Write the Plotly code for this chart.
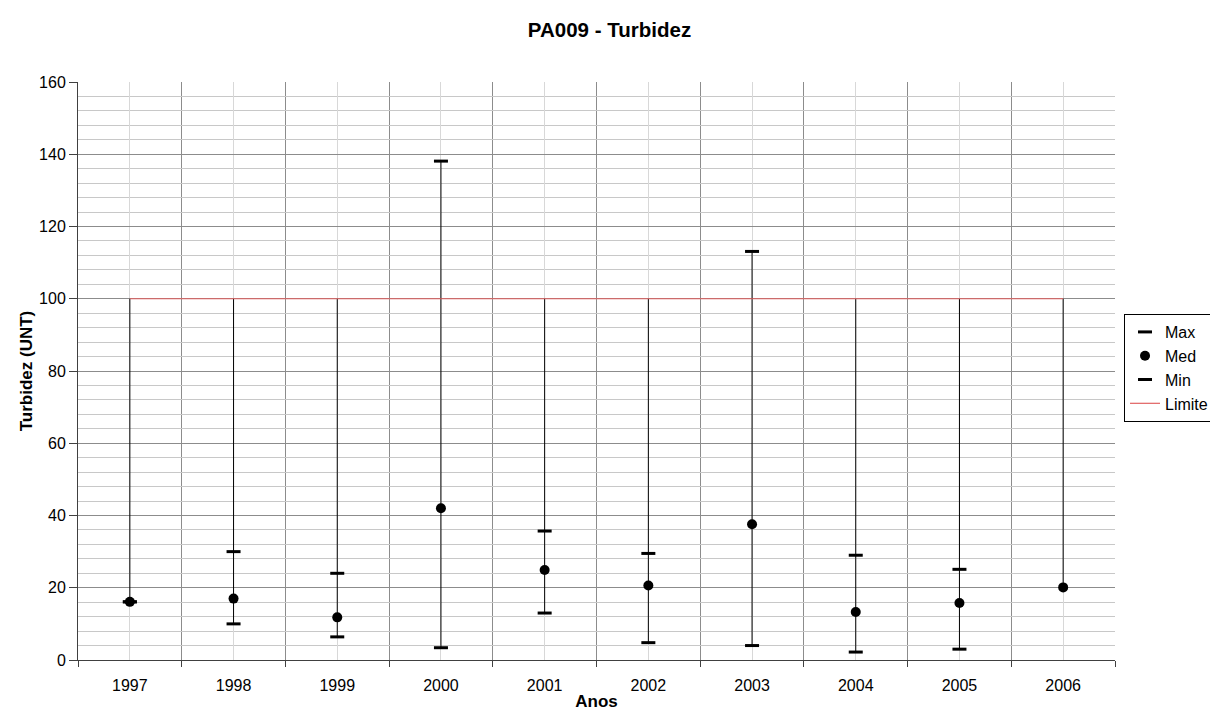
import plotly.graph_objects as go

# ---------------- Data ----------------
anos = ["1997", "1998", "1999", "2000", "2001", "2002", "2003", "2004", "2005", "2006"]
maximo = [16.1, 30.0, 24.0, 138.1, 35.7, 29.5, 113.1, 29.0, 25.1, None]
media = [16.1, 17.0, 11.8, 42.0, 24.9, 20.6, 37.6, 13.3, 15.8, 20.1]
minimo = [16.1, 10.0, 6.4, 3.4, 13.0, 4.8, 4.0, 2.2, 3.0, None]
limite = [100] * len(anos)

FONT = "Liberation Sans, Arial, sans-serif"
pos = list(range(len(anos)))

# high-low lines: span every series (incl. limite) at each year
hl_x, hl_y = [], []
for i in pos:
    vals = [v for v in (maximo[i], media[i], minimo[i], limite[i]) if v is not None]
    hl_x += [i, i, None]
    hl_y += [min(vals), max(vals), None]

fig = go.Figure()
fig.add_trace(go.Scatter(x=hl_x, y=hl_y, mode="lines", line=dict(color="black", width=1),
                         showlegend=False, hoverinfo="skip"))
fig.add_trace(go.Scatter(x=pos, y=maximo, mode="markers", name="Max", legendgroup="a",
                         marker=dict(symbol="line-ew", size=10, line=dict(color="black", width=3))))
fig.add_trace(go.Scatter(x=pos, y=media, mode="markers", name="Med", legendgroup="b",
                         marker=dict(symbol="circle", size=10, color="black")))
fig.add_trace(go.Scatter(x=pos, y=minimo, mode="markers", name="Min", legendgroup="c",
                         marker=dict(symbol="line-ew", size=10, line=dict(color="black", width=3))))
fig.add_trace(go.Scatter(x=pos, y=limite, mode="lines", name="Limite", legendgroup="d",
                         line=dict(color="#E06060", width=1.2)))

# page body adds an 8px offset, so margins are shifted accordingly
fig.update_layout(
    width=1218, height=720,
    margin=dict(l=70, r=111, t=74, b=68, autoexpand=False),
    paper_bgcolor="white", plot_bgcolor="white",
    font=dict(family=FONT, size=16, color="black"),
    title=dict(text="<b>PA009 - Turbidez</b>", x=601.5 / 1218, xanchor="center",
               y=1 - 22 / 720, yanchor="middle", font=dict(size=20.5)),
    legend=dict(x=1.0087, y=0.5986, xanchor="left", yanchor="top",
                bgcolor="white", bordercolor="black", borderwidth=1,
                font=dict(size=16), tracegroupgap=0, traceorder="grouped"),
    showlegend=True,
)

fig.update_xaxes(
    range=[-0.5, len(anos) - 0.5], automargin=False,
    tickvals=pos, ticktext=anos, ticks="outside", ticklen=11, tickcolor="rgba(0,0,0,0)",
    showgrid=True, gridcolor="#d8d8d8", gridwidth=1,
    showline=True, linecolor="#404040", linewidth=1,
    zeroline=False,
    minor=dict(tick0=0.5, dtick=1, ticks="outside", ticklen=6, tickcolor="#404040",
               showgrid=True, gridcolor="#8c8c8c", gridwidth=1),
    title=dict(text="<b>Anos</b>", font=dict(size=17), standoff=1),
)
fig.update_yaxes(
    range=[0, 160], dtick=20, automargin=False,
    ticks="outside", ticklen=8, tickcolor="#404040",
    showgrid=True, gridcolor="#8c8c8c", gridwidth=1,
    showline=True, linecolor="#404040", linewidth=1,
    zeroline=False,
    minor=dict(dtick=4, showgrid=True, gridcolor="#c8c8c8", gridwidth=1),
    title=dict(text="<b>Turbidez (UNT)</b>", font=dict(size=17), standoff=2),
)

fig.write_html("out.html")
